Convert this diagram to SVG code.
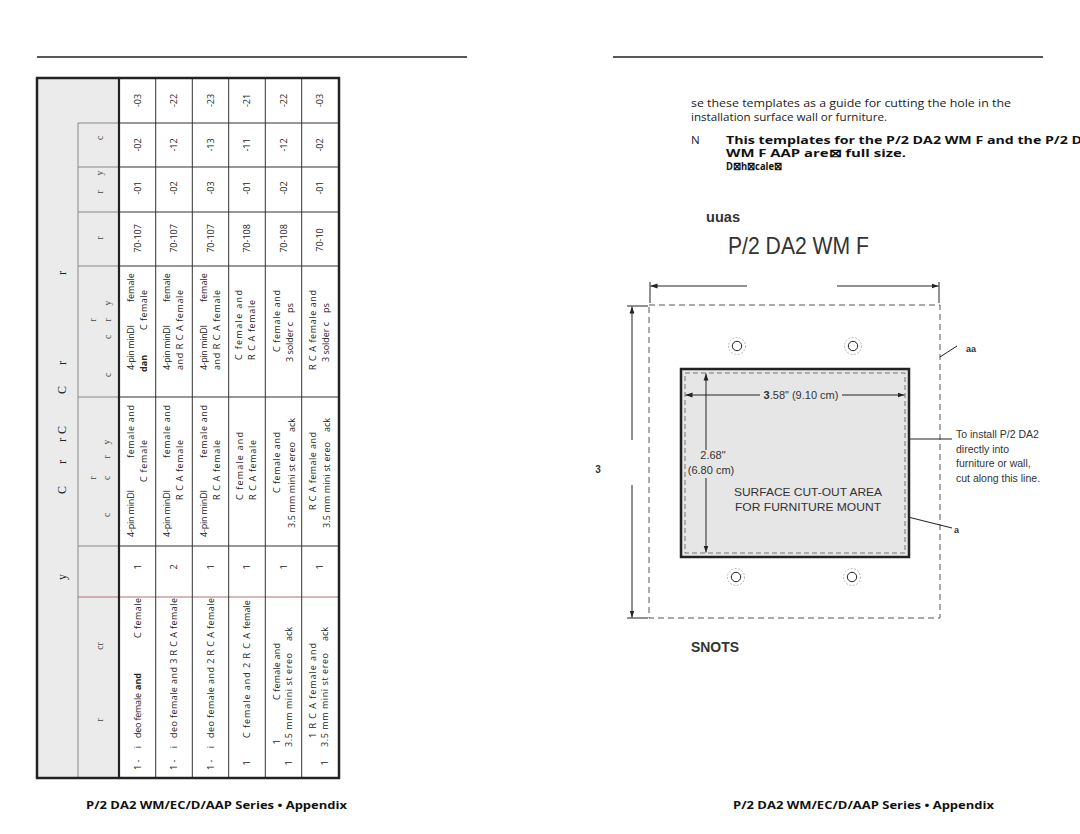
<svg xmlns="http://www.w3.org/2000/svg" width="1080" height="834" viewBox="0 0 1080 834">
<defs>
<style>
.t{font-family:"Open Sans","Liberation Sans",sans-serif;font-size:9px;fill:#222}
.m{text-anchor:middle}
.b{font-weight:bold}
.h{font-family:"Liberation Serif",serif;font-size:12px;fill:#222;text-anchor:middle}
.s{font-family:"Liberation Serif",serif;font-size:9.5px;fill:#444;text-anchor:middle}
.grid{stroke:#333;stroke-width:1;fill:none}
.sub{stroke:#888;stroke-width:1;fill:none}
.body{font-family:"Open Sans","Liberation Sans",sans-serif;font-size:11.5px;fill:#222}
.bb{font-family:"Open Sans","Liberation Sans",sans-serif;font-size:10.5px;font-weight:bold;fill:#111}
.tp{font-family:"Liberation Sans",Arial,sans-serif;fill:#333}
.dim{stroke:#222;stroke-width:1;fill:none}
.foot{font-family:"Open Sans","Liberation Sans",sans-serif;font-size:10.5px;font-weight:bold;fill:#111}
</style>
<marker id="ar" viewBox="0 0 10 10" refX="10" refY="5" markerWidth="7" markerHeight="7" orient="auto-start-reverse" markerUnits="userSpaceOnUse">
<path d="M0,1.5 L10,5 L0,8.5 z" fill="#222"/>
</marker>
</defs>
<rect width="1080" height="834" fill="#fff"/>

<g id="rules">
<line x1="37" y1="57" x2="467" y2="57" stroke="#222" stroke-width="1.5"/>
<line x1="613" y1="57" x2="1043" y2="57" stroke="#222" stroke-width="1.5"/>
</g>

<g id="table">
<rect x="37" y="78" width="82" height="700" fill="#ebebeb"/>
<rect x="119" y="78" width="220" height="700" fill="#fff"/>
<line class="sub" x1="78" y1="123" x2="78" y2="778"/>
<line class="sub" x1="78" y1="123" x2="119" y2="123"/>
<line class="sub" x1="78" y1="167" x2="119" y2="167"/>
<line class="sub" x1="78" y1="212" x2="119" y2="212"/>
<line class="sub" x1="78" y1="266" x2="119" y2="266"/>
<line class="sub" x1="78" y1="397" x2="119" y2="397"/>
<line class="sub" x1="78" y1="546" x2="119" y2="546"/>
<line class="grid" x1="119" y1="123" x2="339" y2="123"/>
<line class="grid" x1="119" y1="167" x2="339" y2="167"/>
<line class="grid" x1="119" y1="212" x2="339" y2="212"/>
<line class="grid" x1="119" y1="266" x2="339" y2="266"/>
<line class="grid" x1="119" y1="397" x2="339" y2="397"/>
<line class="grid" x1="119" y1="546" x2="339" y2="546"/>
<line x1="78" y1="597" x2="339" y2="597" stroke="#b07070" stroke-width="1"/>
<line class="grid" x1="155.7" y1="78" x2="155.7" y2="778"/>
<line class="grid" x1="192.3" y1="78" x2="192.3" y2="778"/>
<line class="grid" x1="228.7" y1="78" x2="228.7" y2="778"/>
<line class="grid" x1="265.3" y1="78" x2="265.3" y2="778"/>
<line class="grid" x1="301.7" y1="78" x2="301.7" y2="778"/>
<line x1="119" y1="78" x2="119" y2="778" stroke="#222" stroke-width="2.2"/>
<rect x="37" y="78" width="302" height="700" fill="none" stroke="#222" stroke-width="2.5"/>
</g>

<g id="table-header">
<text class="h" transform="translate(66,273) rotate(-90)">r</text>
<text class="h" transform="translate(66,363) rotate(-90)">r</text>
<text class="h" transform="translate(66,390) rotate(-90)">C</text>
<text class="h" transform="translate(66,430) rotate(-90)">C</text>
<text class="h" transform="translate(66,440) rotate(-90)">r</text>
<text class="h" transform="translate(66,462) rotate(-90)">r</text>
<text class="h" transform="translate(66,490) rotate(-90)">C</text>
<text class="h" transform="translate(66,577) rotate(-90)">y</text>

<text class="s" transform="translate(103,138) rotate(-90)">c</text>
<text class="s" transform="translate(103,173) rotate(-90)">y</text>
<text class="s" transform="translate(103,192) rotate(-90)">r</text>
<text class="s" transform="translate(103,238) rotate(-90)">r</text>
<text class="s" transform="translate(96,320) rotate(-90)">r</text>
<text class="s" transform="translate(111,375) rotate(-90)">c</text>
<text class="s" transform="translate(111,337) rotate(-90)">c</text>
<text class="s" transform="translate(111,320) rotate(-90)">r</text>
<text class="s" transform="translate(111,303) rotate(-90)">y</text>
<text class="s" transform="translate(96,478) rotate(-90)">r</text>
<text class="s" transform="translate(110,515) rotate(-90)">c</text>
<text class="s" transform="translate(110,478) rotate(-90)">c</text>
<text class="s" transform="translate(110,457) rotate(-90)">r</text>
<text class="s" transform="translate(110,442) rotate(-90)">y</text>
<text class="s" transform="translate(103,720) rotate(-90)">r</text>
<text class="s" transform="translate(103,646) rotate(-90)">cr</text>
</g>

<g id="table-numbers">
<text class="t m" transform="translate(140.7,100.5) rotate(-90)">-03</text>
<text class="t m" transform="translate(177,100.5) rotate(-90)">-22</text>
<text class="t m" transform="translate(213.5,100.5) rotate(-90)">-23</text>
<text class="t m" transform="translate(250,100.5) rotate(-90)">-21</text>
<text class="t m" transform="translate(286.5,100.5) rotate(-90)">-22</text>
<text class="t m" transform="translate(323,100.5) rotate(-90)">-03</text>

<text class="t m" transform="translate(140.7,145) rotate(-90)">-02</text>
<text class="t m" transform="translate(177,145) rotate(-90)">-12</text>
<text class="t m" transform="translate(213.5,145) rotate(-90)">-13</text>
<text class="t m" transform="translate(250,145) rotate(-90)">-11</text>
<text class="t m" transform="translate(286.5,145) rotate(-90)">-12</text>
<text class="t m" transform="translate(323,145) rotate(-90)">-02</text>

<text class="t m" transform="translate(140.7,188) rotate(-90)">-01</text>
<text class="t m" transform="translate(177,188) rotate(-90)">-02</text>
<text class="t m" transform="translate(213.5,188) rotate(-90)">-03</text>
<text class="t m" transform="translate(250,188) rotate(-90)">-01</text>
<text class="t m" transform="translate(286.5,188) rotate(-90)">-02</text>
<text class="t m" transform="translate(323,188) rotate(-90)">-01</text>

<text class="t m" transform="translate(140.7,238.5) rotate(-90)">70-107</text>
<text class="t m" transform="translate(177,238.5) rotate(-90)">70-107</text>
<text class="t m" transform="translate(213.5,238.5) rotate(-90)">70-107</text>
<text class="t m" transform="translate(250,238.5) rotate(-90)">70-108</text>
<text class="t m" transform="translate(286.5,238.5) rotate(-90)">70-108</text>
<text class="t m" transform="translate(323,240) rotate(-90)">70-10</text>

<text class="t m" transform="translate(140.7,567) rotate(-90)">1</text>
<text class="t m" transform="translate(177,567) rotate(-90)">2</text>
<text class="t m" transform="translate(213.5,567) rotate(-90)">1</text>
<text class="t m" transform="translate(250,567) rotate(-90)">1</text>
<text class="t m" transform="translate(286.5,567) rotate(-90)">1</text>
<text class="t m" transform="translate(323,567) rotate(-90)">1</text>
</g>

<g id="table-output">
<text class="t" transform="translate(133.5,370) rotate(-90)" textLength="45" lengthAdjust="spacing">4-pin minDI</text>
<text class="t" transform="translate(133.5,302) rotate(-90)">female</text>
<text class="t b" transform="translate(146.5,372) rotate(-90)">dan</text>
<text class="t" transform="translate(146.5,330) rotate(-90)" textLength="40" lengthAdjust="spacing">C female</text>

<text class="t" transform="translate(170,370) rotate(-90)" textLength="45" lengthAdjust="spacing">4-pin minDI</text>
<text class="t" transform="translate(170,302) rotate(-90)">female</text>
<text class="t" transform="translate(183,370) rotate(-90)" textLength="80" lengthAdjust="spacing">and R C A female</text>

<text class="t" transform="translate(206.5,370) rotate(-90)" textLength="45" lengthAdjust="spacing">4-pin minDI</text>
<text class="t" transform="translate(206.5,302) rotate(-90)">female</text>
<text class="t" transform="translate(220,370) rotate(-90)" textLength="80" lengthAdjust="spacing">and R C A female</text>

<text class="t" transform="translate(241.5,360) rotate(-90)" textLength="70" lengthAdjust="spacing">C female and</text>
<text class="t" transform="translate(255,360) rotate(-90)" textLength="60" lengthAdjust="spacing">R C A female</text>

<text class="t" transform="translate(280,352) rotate(-90)" textLength="62" lengthAdjust="spacing">C female and</text>
<text class="t" transform="translate(293,362) rotate(-90)" textLength="40" lengthAdjust="spacing">3 solder c</text>
<text class="t" transform="translate(293,313) rotate(-90)">ps</text>

<text class="t" transform="translate(316,370) rotate(-90)" textLength="80" lengthAdjust="spacing">R C A female and</text>
<text class="t" transform="translate(328.5,362) rotate(-90)" textLength="40" lengthAdjust="spacing">3 solder c</text>
<text class="t" transform="translate(328.5,313) rotate(-90)">ps</text>
</g>

<g id="table-input">
<text class="t" transform="translate(133.5,537) rotate(-90)" textLength="47" lengthAdjust="spacing">4-pin minDI</text>
<text class="t" transform="translate(133.5,458) rotate(-90)" textLength="53" lengthAdjust="spacing">female and</text>
<text class="t" transform="translate(146.5,482) rotate(-90)" textLength="42" lengthAdjust="spacing">C female</text>

<text class="t" transform="translate(170,537) rotate(-90)" textLength="47" lengthAdjust="spacing">4-pin minDI</text>
<text class="t" transform="translate(170,458) rotate(-90)" textLength="53" lengthAdjust="spacing">female and</text>
<text class="t" transform="translate(183,500) rotate(-90)" textLength="60" lengthAdjust="spacing">R C A female</text>

<text class="t" transform="translate(206.5,537) rotate(-90)" textLength="47" lengthAdjust="spacing">4-pin minDI</text>
<text class="t" transform="translate(206.5,458) rotate(-90)" textLength="53" lengthAdjust="spacing">female and</text>
<text class="t" transform="translate(220,500) rotate(-90)" textLength="60" lengthAdjust="spacing">R C A female</text>

<text class="t" transform="translate(243,500) rotate(-90)" textLength="68" lengthAdjust="spacing">C female and</text>
<text class="t" transform="translate(255.5,500) rotate(-90)" textLength="60" lengthAdjust="spacing">R C A female</text>

<text class="t" transform="translate(280,493) rotate(-90)" textLength="61" lengthAdjust="spacing">C female and</text>
<text class="t" transform="translate(295,528) rotate(-90)" textLength="86" lengthAdjust="spacing">3.5 mm mini st ereo</text>
<text class="t" transform="translate(295,432) rotate(-90)">ack</text>

<text class="t" transform="translate(316,510) rotate(-90)" textLength="78" lengthAdjust="spacing">R C A female and</text>
<text class="t" transform="translate(330,528) rotate(-90)" textLength="86" lengthAdjust="spacing">3.5 mm mini st ereo</text>
<text class="t" transform="translate(330,432) rotate(-90)">ack</text>
</g>

<g id="table-type">
<text class="t" transform="translate(140.7,770) rotate(-90)">1 -</text>
<text class="t m" transform="translate(140.7,747) rotate(-90)">i</text>
<text class="t" transform="translate(140.7,738) rotate(-90)" textLength="45" lengthAdjust="spacing">deo female</text>
<text class="t b" transform="translate(140.7,690) rotate(-90)">and</text>
<text class="t" transform="translate(140.7,638) rotate(-90)" textLength="40" lengthAdjust="spacing">C female</text>

<text class="t" transform="translate(177,770) rotate(-90)">1 -</text>
<text class="t m" transform="translate(177,747) rotate(-90)">i</text>
<text class="t" transform="translate(177,738) rotate(-90)" textLength="140" lengthAdjust="spacing">deo female and 3 R C A female</text>

<text class="t" transform="translate(213.5,770) rotate(-90)">1 -</text>
<text class="t m" transform="translate(213.5,747) rotate(-90)">i</text>
<text class="t" transform="translate(213.5,738) rotate(-90)" textLength="140" lengthAdjust="spacing">deo female and 2 R C A female</text>

<text class="t m" transform="translate(250,763) rotate(-90)">1</text>
<text class="t" transform="translate(250,738) rotate(-90)" textLength="105" lengthAdjust="spacing">C female and 2 R C A</text>
<text class="t" transform="translate(250,629) rotate(-90)">female</text>

<text class="t m" transform="translate(280,742) rotate(-90)">1</text>
<text class="t" transform="translate(280,700) rotate(-90)" textLength="57" lengthAdjust="spacing">C female and</text>
<text class="t m" transform="translate(291.5,763) rotate(-90)">1</text>
<text class="t" transform="translate(291.5,747) rotate(-90)" textLength="94" lengthAdjust="spacing">3.5 mm mini st ereo</text>
<text class="t" transform="translate(291.5,641) rotate(-90)">ack</text>

<text class="t" transform="translate(316,738) rotate(-90)" textLength="95" lengthAdjust="spacing">1 R C A female and</text>
<text class="t m" transform="translate(328,763) rotate(-90)">1</text>
<text class="t" transform="translate(328,747) rotate(-90)" textLength="94" lengthAdjust="spacing">3.5 mm mini st ereo</text>
<text class="t" transform="translate(328,641) rotate(-90)">ack</text>
</g>

<g id="intro">
<text class="body" x="691" y="106.5" textLength="320" lengthAdjust="spacingAndGlyphs">se these templates as a guide for cutting the hole in the</text>
<text class="body" x="691" y="121" textLength="196" lengthAdjust="spacingAndGlyphs">installation surface wall or furniture.</text>
<text class="body" x="691" y="144" font-size="11">N</text>
<text class="bb" x="726" y="144" textLength="356" lengthAdjust="spacingAndGlyphs">This templates for the P/2 DA2 WM F and the P/2 D</text>
<text class="bb" x="726" y="157" textLength="180" lengthAdjust="spacingAndGlyphs">WM F AAP are⊠  full size.</text>
<text class="bb" x="726" y="170" textLength="56" lengthAdjust="spacingAndGlyphs">D⊠h⊠cale⊠</text>
</g>

<g id="title">
<text class="tp" x="706" y="222" font-size="14" font-weight="bold" fill="#222" textLength="34" lengthAdjust="spacingAndGlyphs">uuas</text>
<text class="tp" x="728" y="254" font-size="24" fill="#222" textLength="141" lengthAdjust="spacingAndGlyphs">P/2 DA2 WM F</text>
</g>

<g id="template-outline">
<rect x="649" y="305" width="291" height="313" fill="none" stroke="#555" stroke-width="1" stroke-dasharray="6,4"/>
</g>

<g id="dimensions">
<line class="dim" x1="650" y1="282" x2="650" y2="303"/>
<line class="dim" x1="939" y1="282" x2="939" y2="303"/>
<line class="dim" x1="747" y1="286" x2="650.5" y2="286" marker-end="url(#ar)"/>
<line class="dim" x1="837" y1="286" x2="938.5" y2="286" marker-end="url(#ar)"/>
<line class="dim" x1="627" y1="306" x2="648" y2="306"/>
<line class="dim" x1="627" y1="618" x2="648" y2="618"/>
<line class="dim" x1="632" y1="440" x2="632" y2="306.5" marker-end="url(#ar)"/>
<line class="dim" x1="632" y1="485" x2="632" y2="617.5" marker-end="url(#ar)"/>
<text class="tp" x="598" y="473" font-size="10" font-weight="bold" fill="#222" text-anchor="middle">3</text>
</g>

<g id="holes">
<circle cx="737" cy="346" r="8.5" fill="none" stroke="#999" stroke-width="0.7" stroke-dasharray="2,1.5"/>
<circle cx="737" cy="346" r="4.7" fill="#fff" stroke="#222" stroke-width="1"/>
<circle cx="853" cy="346" r="8.5" fill="none" stroke="#999" stroke-width="0.7" stroke-dasharray="2,1.5"/>
<circle cx="853" cy="346" r="4.7" fill="#fff" stroke="#222" stroke-width="1"/>
<circle cx="736" cy="577" r="8.5" fill="none" stroke="#999" stroke-width="0.7" stroke-dasharray="2,1.5"/>
<circle cx="736" cy="577" r="4.7" fill="#fff" stroke="#222" stroke-width="1"/>
<circle cx="852" cy="577" r="8.5" fill="none" stroke="#999" stroke-width="0.7" stroke-dasharray="2,1.5"/>
<circle cx="852" cy="577" r="4.7" fill="#fff" stroke="#222" stroke-width="1"/>
</g>

<g id="cutout">
<rect x="681" y="369" width="228" height="188" fill="#e6e6e6" stroke="#222" stroke-width="2.5"/>
<rect x="685" y="373" width="220" height="180" fill="none" stroke="#555" stroke-width="0.8" stroke-dasharray="5,3"/>
<line class="dim" x1="760" y1="395" x2="685.5" y2="395" marker-end="url(#ar)"/>
<line class="dim" x1="842" y1="395" x2="904.5" y2="395" marker-end="url(#ar)"/>
<text class="tp" x="801" y="399" font-size="11" text-anchor="middle" fill="#333"><tspan font-weight="bold">3</tspan>.58" (9.10 cm)</text>
<line class="dim" x1="706" y1="450" x2="706" y2="373.5" marker-end="url(#ar)"/>
<line class="dim" x1="706" y1="478" x2="706" y2="552.5" marker-end="url(#ar)"/>
<text class="tp" x="713" y="459" font-size="11" text-anchor="middle" fill="#333">2.68"</text>
<text class="tp" x="711" y="474" font-size="11" text-anchor="middle" fill="#333">(6.80 cm)</text>
<text class="tp" x="808" y="496" font-size="11.5" text-anchor="middle" fill="#444" textLength="148" lengthAdjust="spacingAndGlyphs">SURFACE CUT-OUT AREA</text>
<text class="tp" x="808" y="511" font-size="11.5" text-anchor="middle" fill="#444" textLength="146" lengthAdjust="spacingAndGlyphs">FOR FURNITURE MOUNT</text>
</g>

<g id="callouts">
<line class="dim" x1="940" y1="357" x2="957" y2="346"/>
<text class="tp" x="966" y="352" font-size="9" font-weight="bold" fill="#222">aa</text>
<line class="dim" x1="909" y1="439" x2="952" y2="439"/>
<text class="tp" x="956" y="438" font-size="10.5" fill="#333">To install P/2 DA2</text>
<text class="tp" x="956" y="453" font-size="10.5" fill="#333">directly into</text>
<text class="tp" x="956" y="467" font-size="10.5" fill="#333">furniture or wall,</text>
<text class="tp" x="956" y="482" font-size="10.5" fill="#333">cut along this line.</text>
<line class="dim" x1="908" y1="517" x2="952" y2="528"/>
<text class="tp" x="954" y="533" font-size="9" font-weight="bold" fill="#222">a</text>
</g>

<g id="snots">
<text class="tp" x="691" y="652" font-size="14" font-weight="bold" fill="#222" textLength="48" lengthAdjust="spacingAndGlyphs">SNOTS</text>
</g>

<g id="footers">
<text class="foot" x="86" y="809" textLength="261" lengthAdjust="spacingAndGlyphs">P/2 DA2 WM/EC/D/AAP Series • Appendix</text>
<text class="foot" x="733" y="809" textLength="261" lengthAdjust="spacingAndGlyphs">P/2 DA2 WM/EC/D/AAP Series • Appendix</text>
</g>
</svg>
